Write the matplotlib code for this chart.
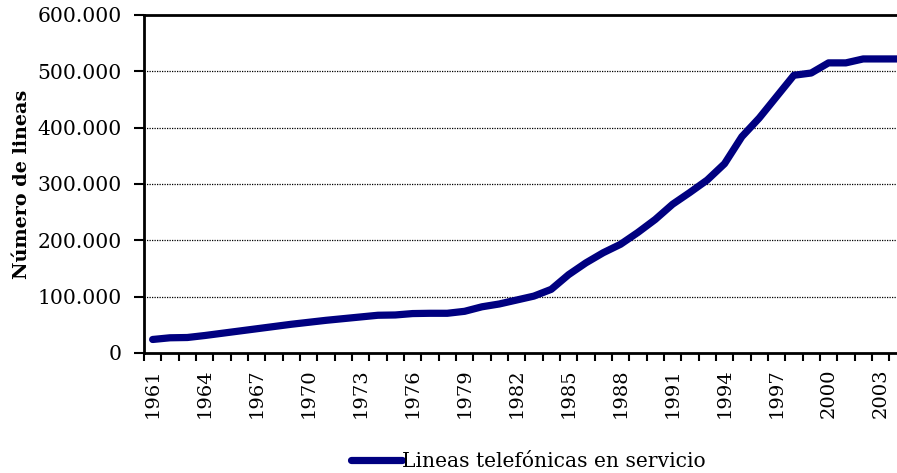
import matplotlib
matplotlib.use("Agg")
import matplotlib.pyplot as plt
from matplotlib.ticker import FuncFormatter, FixedLocator

years = list(range(1961, 2005))
lineas = [
    24000, 27000, 27500, 31000, 35000, 39000, 43000, 47000, 51000, 54500,
    58000, 61000, 64000, 67000, 67500, 70000, 70500, 70500, 74000, 82000,
    87000, 94000, 101000, 113000, 139000, 160000, 178000, 193000, 214000, 237000,
    264000, 285000, 307000, 336000, 384000, 417000, 455000, 493000, 497000, 515000,
    515000, 522000, 522000, 522000,
]
serie = "Lineas telefónicas en servicio"
y_label = "Número de lineas"

plt.rcParams['font.family'] = ['DejaVu Serif']

fig = plt.figure(figsize=(8.97, 4.73), dpi=100)
ax = fig.add_axes([0.1605, 0.2537, 0.8501, 0.7146])

x = list(range(len(years)))
line, = ax.plot(x, lineas, color='#000080', lw=5.2, solid_capstyle='round',
                solid_joinstyle='round', label=serie, zorder=3)

ax.set_xlim(-0.5, len(years) - 0.5)
ax.set_ylim(0, 600000)

# category ticks sit between the years, labels every third year
ax.xaxis.set_major_locator(FixedLocator([i + 0.5 for i in range(-1, len(years))]))
ax.set_xticklabels([])
ax.xaxis.set_minor_locator(FixedLocator(x[::3]))
ax.set_xticklabels([str(y) for y in years[::3]], minor=True, rotation=90,
                   fontsize=14)
ax.tick_params(axis='x', which='major', length=6, width=1.5, direction='out')
ax.tick_params(axis='x', which='minor', length=0, pad=11)

ax.set_yticks(range(0, 600001, 100000))
ax.yaxis.set_major_formatter(FuncFormatter(
    lambda v, p: f"{int(v):,}".replace(",", ".")))
ax.tick_params(axis='y', length=7, width=1.5, direction='out', labelsize=14.6,
               pad=9)

for v in range(100000, 600000, 100000):
    ax.axhline(v, color='black', lw=0.9, ls=(0, (1, 1)), zorder=1)

for s in ['left', 'bottom', 'top']:
    ax.spines[s].set_linewidth(2)
ax.spines['right'].set_visible(False)

ax.set_ylabel(y_label, fontsize=13.8, fontweight='bold', labelpad=5)

fig.legend(handles=[line], loc='center', bbox_to_anchor=(0.589, 0.025),
           frameon=False, fontsize=14.6, handlelength=2.5, handletextpad=0.0)

fig.savefig("out.png", dpi=100)
